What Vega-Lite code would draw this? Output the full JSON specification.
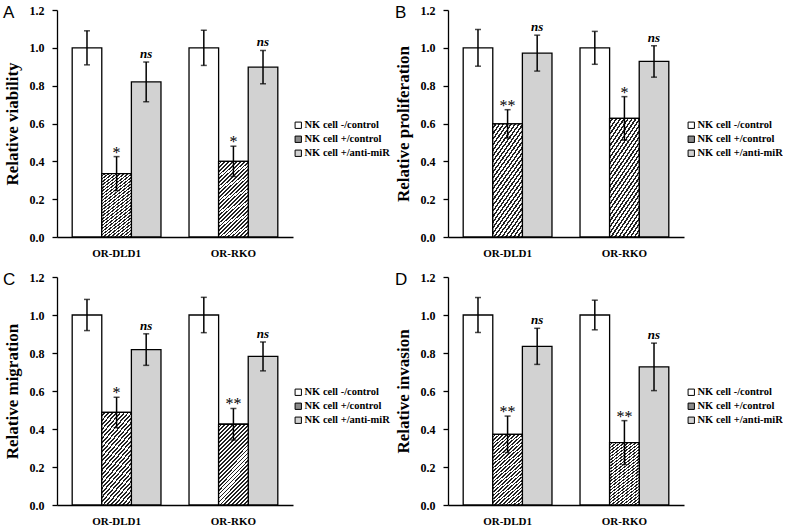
{
  "$schema": "https://vega.github.io/schema/vega-lite/v6.json",
  "padding": {"left": 3, "top": 4, "right": 0, "bottom": 0},
  "data": {"values": [
    {"panel": "A", "cell": "OR-DLD1", "grp": "NK cell -/control", "mean": 1.0, "lo": 0.91, "hi": 1.09, "sig": ""},
    {"panel": "A", "cell": "OR-DLD1", "grp": "NK cell +/control", "mean": 0.335, "lo": 0.245, "hi": 0.425, "sig": "*"},
    {"panel": "A", "cell": "OR-DLD1", "grp": "NK cell +/anti-miR", "mean": 0.82, "lo": 0.715, "hi": 0.925, "sig": "ns"},
    {"panel": "A", "cell": "OR-RKO", "grp": "NK cell -/control", "mean": 1.0, "lo": 0.907, "hi": 1.093, "sig": ""},
    {"panel": "A", "cell": "OR-RKO", "grp": "NK cell +/control", "mean": 0.4, "lo": 0.32, "hi": 0.48, "sig": "*"},
    {"panel": "A", "cell": "OR-RKO", "grp": "NK cell +/anti-miR", "mean": 0.898, "lo": 0.81, "hi": 0.986, "sig": "ns"},
    {"panel": "B", "cell": "OR-DLD1", "grp": "NK cell -/control", "mean": 1.0, "lo": 0.903, "hi": 1.097, "sig": ""},
    {"panel": "B", "cell": "OR-DLD1", "grp": "NK cell +/control", "mean": 0.598, "lo": 0.523, "hi": 0.673, "sig": "**"},
    {"panel": "B", "cell": "OR-DLD1", "grp": "NK cell +/anti-miR", "mean": 0.972, "lo": 0.877, "hi": 1.067, "sig": "ns"},
    {"panel": "B", "cell": "OR-RKO", "grp": "NK cell -/control", "mean": 1.0, "lo": 0.913, "hi": 1.087, "sig": ""},
    {"panel": "B", "cell": "OR-RKO", "grp": "NK cell +/control", "mean": 0.627, "lo": 0.512, "hi": 0.742, "sig": "*"},
    {"panel": "B", "cell": "OR-RKO", "grp": "NK cell +/anti-miR", "mean": 0.928, "lo": 0.845, "hi": 1.011, "sig": "ns"},
    {"panel": "C", "cell": "OR-DLD1", "grp": "NK cell -/control", "mean": 1.0, "lo": 0.918, "hi": 1.082, "sig": ""},
    {"panel": "C", "cell": "OR-DLD1", "grp": "NK cell +/control", "mean": 0.487, "lo": 0.407, "hi": 0.567, "sig": "*"},
    {"panel": "C", "cell": "OR-DLD1", "grp": "NK cell +/anti-miR", "mean": 0.818, "lo": 0.735, "hi": 0.901, "sig": "ns"},
    {"panel": "C", "cell": "OR-RKO", "grp": "NK cell -/control", "mean": 1.0, "lo": 0.907, "hi": 1.093, "sig": ""},
    {"panel": "C", "cell": "OR-RKO", "grp": "NK cell +/control", "mean": 0.425, "lo": 0.342, "hi": 0.508, "sig": "**"},
    {"panel": "C", "cell": "OR-RKO", "grp": "NK cell +/anti-miR", "mean": 0.782, "lo": 0.706, "hi": 0.858, "sig": "ns"},
    {"panel": "D", "cell": "OR-DLD1", "grp": "NK cell -/control", "mean": 1.0, "lo": 0.908, "hi": 1.092, "sig": ""},
    {"panel": "D", "cell": "OR-DLD1", "grp": "NK cell +/control", "mean": 0.372, "lo": 0.276, "hi": 0.468, "sig": "**"},
    {"panel": "D", "cell": "OR-DLD1", "grp": "NK cell +/anti-miR", "mean": 0.835, "lo": 0.74, "hi": 0.93, "sig": "ns"},
    {"panel": "D", "cell": "OR-RKO", "grp": "NK cell -/control", "mean": 1.0, "lo": 0.922, "hi": 1.078, "sig": ""},
    {"panel": "D", "cell": "OR-RKO", "grp": "NK cell +/control", "mean": 0.328, "lo": 0.212, "hi": 0.444, "sig": "**"},
    {"panel": "D", "cell": "OR-RKO", "grp": "NK cell +/anti-miR", "mean": 0.727, "lo": 0.602, "hi": 0.852, "sig": "ns"}
  ]},
  "spacing": 13,
  "resolve": {"scale": {"fill": "independent"}, "legend": {"fill": "independent"}},
  "vconcat": [
    {
      "hconcat": [
        {
          "width": 236, "height": 227,
          "title": {"text": "A", "anchor": "start", "frame": "group", "orient": "top", "offset": 0, "dx": -54, "dy": 18, "baseline": "top", "font": "Liberation Sans", "fontSize": 17, "fontWeight": "normal", "color": "black"},
          "transform": [{"filter": "datum.panel === 'A'"}],
          "encoding": {
            "x": {"field": "cell", "type": "nominal", "sort": ["OR-DLD1", "OR-RKO"], "scale": {"paddingInner": 0.24, "paddingOuter": 0.13}, "axis": {"title": null, "ticks": false, "labelAngle": 0, "labelFontSize": 11, "labelPadding": 10, "labelFont": "Liberation Serif", "labelFontWeight": "bold"}},
            "xOffset": {"field": "grp", "type": "nominal", "sort": ["NK cell -/control", "NK cell +/control", "NK cell +/anti-miR"], "scale": {"paddingInner": 0, "paddingOuter": 0}}
          },
          "layer": [
            {"mark": {"type": "bar", "stroke": "black", "strokeWidth": 1.3},
             "encoding": {
               "y": {"field": "mean", "type": "quantitative", "title": "Relative viability", "scale": {"domain": [0, 1.2], "nice": false}, "axis": {"values": [0, 0.2, 0.4, 0.6, 0.8, 1, 1.2], "tickCount": 10, "format": ".1f", "labelOverlap": false}},
               "fill": {"field": "grp", "type": "nominal", "scale": {"domain": ["NK cell -/control", "NK cell +/control", "NK cell +/anti-miR"], "range": ["#ffffff", "#8a8a8a", "#d2d2d2"]}, "legend": {"orient": "none", "legendX": 236, "legendY": 110}}
             }},
            {"transform": [{"filter": "datum.grp === 'NK cell +/control'"}],
             "mark": {"type": "bar", "stroke": "black", "strokeWidth": 1.3, "fill": {"gradient": "linear", "x1": 0, "y1": 0, "x2": 0.446, "y2": 1.205, "stops": [
        {"offset": 0, "color": "#fff"}, {"offset": 0.0196, "color": "#fff"}, {"offset": 0.0196, "color": "#222"}, {"offset": 0.0357, "color": "#222"},
        {"offset": 0.0357, "color": "#fff"}, {"offset": 0.0554, "color": "#fff"}, {"offset": 0.0554, "color": "#222"}, {"offset": 0.0714, "color": "#222"},
        {"offset": 0.0714, "color": "#fff"}, {"offset": 0.0911, "color": "#fff"}, {"offset": 0.0911, "color": "#222"}, {"offset": 0.1071, "color": "#222"},
        {"offset": 0.1071, "color": "#fff"}, {"offset": 0.1268, "color": "#fff"}, {"offset": 0.1268, "color": "#222"}, {"offset": 0.1429, "color": "#222"},
        {"offset": 0.1429, "color": "#fff"}, {"offset": 0.1625, "color": "#fff"}, {"offset": 0.1625, "color": "#222"}, {"offset": 0.1786, "color": "#222"},
        {"offset": 0.1786, "color": "#fff"}, {"offset": 0.1982, "color": "#fff"}, {"offset": 0.1982, "color": "#222"}, {"offset": 0.2143, "color": "#222"},
        {"offset": 0.2143, "color": "#fff"}, {"offset": 0.2339, "color": "#fff"}, {"offset": 0.2339, "color": "#222"}, {"offset": 0.25, "color": "#222"},
        {"offset": 0.25, "color": "#fff"}, {"offset": 0.2696, "color": "#fff"}, {"offset": 0.2696, "color": "#222"}, {"offset": 0.2857, "color": "#222"},
        {"offset": 0.2857, "color": "#fff"}, {"offset": 0.3054, "color": "#fff"}, {"offset": 0.3054, "color": "#222"}, {"offset": 0.3214, "color": "#222"},
        {"offset": 0.3214, "color": "#fff"}, {"offset": 0.3411, "color": "#fff"}, {"offset": 0.3411, "color": "#222"}, {"offset": 0.3571, "color": "#222"},
        {"offset": 0.3571, "color": "#fff"}, {"offset": 0.3768, "color": "#fff"}, {"offset": 0.3768, "color": "#222"}, {"offset": 0.3929, "color": "#222"},
        {"offset": 0.3929, "color": "#fff"}, {"offset": 0.4125, "color": "#fff"}, {"offset": 0.4125, "color": "#222"}, {"offset": 0.4286, "color": "#222"},
        {"offset": 0.4286, "color": "#fff"}, {"offset": 0.4482, "color": "#fff"}, {"offset": 0.4482, "color": "#222"}, {"offset": 0.4643, "color": "#222"},
        {"offset": 0.4643, "color": "#fff"}, {"offset": 0.4839, "color": "#fff"}, {"offset": 0.4839, "color": "#222"}, {"offset": 0.5, "color": "#222"},
        {"offset": 0.5, "color": "#fff"}, {"offset": 0.5196, "color": "#fff"}, {"offset": 0.5196, "color": "#222"}, {"offset": 0.5357, "color": "#222"},
        {"offset": 0.5357, "color": "#fff"}, {"offset": 0.5554, "color": "#fff"}, {"offset": 0.5554, "color": "#222"}, {"offset": 0.5714, "color": "#222"},
        {"offset": 0.5714, "color": "#fff"}, {"offset": 0.5911, "color": "#fff"}, {"offset": 0.5911, "color": "#222"}, {"offset": 0.6071, "color": "#222"},
        {"offset": 0.6071, "color": "#fff"}, {"offset": 0.6268, "color": "#fff"}, {"offset": 0.6268, "color": "#222"}, {"offset": 0.6429, "color": "#222"},
        {"offset": 0.6429, "color": "#fff"}, {"offset": 0.6625, "color": "#fff"}, {"offset": 0.6625, "color": "#222"}, {"offset": 0.6786, "color": "#222"},
        {"offset": 0.6786, "color": "#fff"}, {"offset": 0.6982, "color": "#fff"}, {"offset": 0.6982, "color": "#222"}, {"offset": 0.7143, "color": "#222"},
        {"offset": 0.7143, "color": "#fff"}, {"offset": 0.7339, "color": "#fff"}, {"offset": 0.7339, "color": "#222"}, {"offset": 0.75, "color": "#222"},
        {"offset": 0.75, "color": "#fff"}, {"offset": 0.7696, "color": "#fff"}, {"offset": 0.7696, "color": "#222"}, {"offset": 0.7857, "color": "#222"},
        {"offset": 0.7857, "color": "#fff"}, {"offset": 0.8054, "color": "#fff"}, {"offset": 0.8054, "color": "#222"}, {"offset": 0.8214, "color": "#222"},
        {"offset": 0.8214, "color": "#fff"}, {"offset": 0.8411, "color": "#fff"}, {"offset": 0.8411, "color": "#222"}, {"offset": 0.8571, "color": "#222"},
        {"offset": 0.8571, "color": "#fff"}, {"offset": 0.8768, "color": "#fff"}, {"offset": 0.8768, "color": "#222"}, {"offset": 0.8929, "color": "#222"},
        {"offset": 0.8929, "color": "#fff"}, {"offset": 0.9125, "color": "#fff"}, {"offset": 0.9125, "color": "#222"}, {"offset": 0.9286, "color": "#222"},
        {"offset": 0.9286, "color": "#fff"}, {"offset": 0.9482, "color": "#fff"}, {"offset": 0.9482, "color": "#222"}, {"offset": 0.9643, "color": "#222"},
        {"offset": 0.9643, "color": "#fff"}, {"offset": 0.9839, "color": "#fff"}, {"offset": 0.9839, "color": "#222"}, {"offset": 1, "color": "#222"}]}},
             "encoding": {"y": {"field": "mean", "type": "quantitative", "title": "Relative viability", "axis": {"values": [0, 0.2, 0.4, 0.6, 0.8, 1, 1.2], "tickCount": 10, "format": ".1f", "labelOverlap": false}}}},
            {"mark": {"type": "rule", "color": "black", "strokeWidth": 1.5}, "encoding": {"y": {"field": "lo", "type": "quantitative", "title": "Relative viability", "axis": {"values": [0, 0.2, 0.4, 0.6, 0.8, 1, 1.2], "tickCount": 10, "format": ".1f", "labelOverlap": false}}, "y2": {"field": "hi"}}},
            {"mark": {"type": "tick", "color": "black", "thickness": 1.5, "size": 6}, "encoding": {"y": {"field": "lo", "type": "quantitative", "title": "Relative viability", "axis": {"values": [0, 0.2, 0.4, 0.6, 0.8, 1, 1.2], "tickCount": 10, "format": ".1f", "labelOverlap": false}}}},
            {"mark": {"type": "tick", "color": "black", "thickness": 1.5, "size": 6}, "encoding": {"y": {"field": "hi", "type": "quantitative", "title": "Relative viability", "axis": {"values": [0, 0.2, 0.4, 0.6, 0.8, 1, 1.2], "tickCount": 10, "format": ".1f", "labelOverlap": false}}}},
            {"transform": [{"filter": "datum.sig === 'ns'"}], "mark": {"type": "text", "font": "Liberation Serif", "fontStyle": "italic", "fontWeight": "bold", "fontSize": 13, "baseline": "alphabetic", "dy": -4, "color": "black"}, "encoding": {"y": {"field": "hi", "type": "quantitative", "title": "Relative viability", "axis": {"values": [0, 0.2, 0.4, 0.6, 0.8, 1, 1.2], "tickCount": 10, "format": ".1f", "labelOverlap": false}}, "text": {"field": "sig"}}},
            {"transform": [{"filter": "datum.sig === '*' || datum.sig === '**'"}], "mark": {"type": "text", "font": "Liberation Serif", "fontSize": 16, "baseline": "alphabetic", "dy": 1, "color": "black"}, "encoding": {"y": {"field": "hi", "type": "quantitative", "title": "Relative viability", "axis": {"values": [0, 0.2, 0.4, 0.6, 0.8, 1, 1.2], "tickCount": 10, "format": ".1f", "labelOverlap": false}}, "text": {"field": "sig"}}}
          ]
        },
        {
          "width": 236, "height": 227,
          "title": {"text": "B", "anchor": "start", "frame": "group", "orient": "top", "offset": 0, "dx": -53, "dy": 18, "baseline": "top", "font": "Liberation Sans", "fontSize": 17, "fontWeight": "normal", "color": "black"},
          "transform": [{"filter": "datum.panel === 'B'"}],
          "encoding": {
            "x": {"field": "cell", "type": "nominal", "sort": ["OR-DLD1", "OR-RKO"], "scale": {"paddingInner": 0.24, "paddingOuter": 0.13}, "axis": {"title": null, "ticks": false, "labelAngle": 0, "labelFontSize": 11, "labelPadding": 10, "labelFont": "Liberation Serif", "labelFontWeight": "bold"}},
            "xOffset": {"field": "grp", "type": "nominal", "sort": ["NK cell -/control", "NK cell +/control", "NK cell +/anti-miR"], "scale": {"paddingInner": 0, "paddingOuter": 0}}
          },
          "layer": [
            {"mark": {"type": "bar", "stroke": "black", "strokeWidth": 1.3},
             "encoding": {
               "y": {"field": "mean", "type": "quantitative", "title": "Relative proliferation", "scale": {"domain": [0, 1.2], "nice": false}, "axis": {"values": [0, 0.2, 0.4, 0.6, 0.8, 1, 1.2], "tickCount": 10, "format": ".1f", "labelOverlap": false}},
               "fill": {"field": "grp", "type": "nominal", "scale": {"domain": ["NK cell -/control", "NK cell +/control", "NK cell +/anti-miR"], "range": ["#ffffff", "#8a8a8a", "#d2d2d2"]}, "legend": {"orient": "none", "legendX": 238, "legendY": 110}}
             }},
            {"transform": [{"filter": "datum.grp === 'NK cell +/control'"}],
             "mark": {"type": "bar", "stroke": "black", "strokeWidth": 1.3, "fill": {"gradient": "linear", "x1": 0, "y1": 0, "x2": 0.446, "y2": 1.205, "stops": [
        {"offset": 0, "color": "#fff"}, {"offset": 0.0196, "color": "#fff"}, {"offset": 0.0196, "color": "#222"}, {"offset": 0.0357, "color": "#222"},
        {"offset": 0.0357, "color": "#fff"}, {"offset": 0.0554, "color": "#fff"}, {"offset": 0.0554, "color": "#222"}, {"offset": 0.0714, "color": "#222"},
        {"offset": 0.0714, "color": "#fff"}, {"offset": 0.0911, "color": "#fff"}, {"offset": 0.0911, "color": "#222"}, {"offset": 0.1071, "color": "#222"},
        {"offset": 0.1071, "color": "#fff"}, {"offset": 0.1268, "color": "#fff"}, {"offset": 0.1268, "color": "#222"}, {"offset": 0.1429, "color": "#222"},
        {"offset": 0.1429, "color": "#fff"}, {"offset": 0.1625, "color": "#fff"}, {"offset": 0.1625, "color": "#222"}, {"offset": 0.1786, "color": "#222"},
        {"offset": 0.1786, "color": "#fff"}, {"offset": 0.1982, "color": "#fff"}, {"offset": 0.1982, "color": "#222"}, {"offset": 0.2143, "color": "#222"},
        {"offset": 0.2143, "color": "#fff"}, {"offset": 0.2339, "color": "#fff"}, {"offset": 0.2339, "color": "#222"}, {"offset": 0.25, "color": "#222"},
        {"offset": 0.25, "color": "#fff"}, {"offset": 0.2696, "color": "#fff"}, {"offset": 0.2696, "color": "#222"}, {"offset": 0.2857, "color": "#222"},
        {"offset": 0.2857, "color": "#fff"}, {"offset": 0.3054, "color": "#fff"}, {"offset": 0.3054, "color": "#222"}, {"offset": 0.3214, "color": "#222"},
        {"offset": 0.3214, "color": "#fff"}, {"offset": 0.3411, "color": "#fff"}, {"offset": 0.3411, "color": "#222"}, {"offset": 0.3571, "color": "#222"},
        {"offset": 0.3571, "color": "#fff"}, {"offset": 0.3768, "color": "#fff"}, {"offset": 0.3768, "color": "#222"}, {"offset": 0.3929, "color": "#222"},
        {"offset": 0.3929, "color": "#fff"}, {"offset": 0.4125, "color": "#fff"}, {"offset": 0.4125, "color": "#222"}, {"offset": 0.4286, "color": "#222"},
        {"offset": 0.4286, "color": "#fff"}, {"offset": 0.4482, "color": "#fff"}, {"offset": 0.4482, "color": "#222"}, {"offset": 0.4643, "color": "#222"},
        {"offset": 0.4643, "color": "#fff"}, {"offset": 0.4839, "color": "#fff"}, {"offset": 0.4839, "color": "#222"}, {"offset": 0.5, "color": "#222"},
        {"offset": 0.5, "color": "#fff"}, {"offset": 0.5196, "color": "#fff"}, {"offset": 0.5196, "color": "#222"}, {"offset": 0.5357, "color": "#222"},
        {"offset": 0.5357, "color": "#fff"}, {"offset": 0.5554, "color": "#fff"}, {"offset": 0.5554, "color": "#222"}, {"offset": 0.5714, "color": "#222"},
        {"offset": 0.5714, "color": "#fff"}, {"offset": 0.5911, "color": "#fff"}, {"offset": 0.5911, "color": "#222"}, {"offset": 0.6071, "color": "#222"},
        {"offset": 0.6071, "color": "#fff"}, {"offset": 0.6268, "color": "#fff"}, {"offset": 0.6268, "color": "#222"}, {"offset": 0.6429, "color": "#222"},
        {"offset": 0.6429, "color": "#fff"}, {"offset": 0.6625, "color": "#fff"}, {"offset": 0.6625, "color": "#222"}, {"offset": 0.6786, "color": "#222"},
        {"offset": 0.6786, "color": "#fff"}, {"offset": 0.6982, "color": "#fff"}, {"offset": 0.6982, "color": "#222"}, {"offset": 0.7143, "color": "#222"},
        {"offset": 0.7143, "color": "#fff"}, {"offset": 0.7339, "color": "#fff"}, {"offset": 0.7339, "color": "#222"}, {"offset": 0.75, "color": "#222"},
        {"offset": 0.75, "color": "#fff"}, {"offset": 0.7696, "color": "#fff"}, {"offset": 0.7696, "color": "#222"}, {"offset": 0.7857, "color": "#222"},
        {"offset": 0.7857, "color": "#fff"}, {"offset": 0.8054, "color": "#fff"}, {"offset": 0.8054, "color": "#222"}, {"offset": 0.8214, "color": "#222"},
        {"offset": 0.8214, "color": "#fff"}, {"offset": 0.8411, "color": "#fff"}, {"offset": 0.8411, "color": "#222"}, {"offset": 0.8571, "color": "#222"},
        {"offset": 0.8571, "color": "#fff"}, {"offset": 0.8768, "color": "#fff"}, {"offset": 0.8768, "color": "#222"}, {"offset": 0.8929, "color": "#222"},
        {"offset": 0.8929, "color": "#fff"}, {"offset": 0.9125, "color": "#fff"}, {"offset": 0.9125, "color": "#222"}, {"offset": 0.9286, "color": "#222"},
        {"offset": 0.9286, "color": "#fff"}, {"offset": 0.9482, "color": "#fff"}, {"offset": 0.9482, "color": "#222"}, {"offset": 0.9643, "color": "#222"},
        {"offset": 0.9643, "color": "#fff"}, {"offset": 0.9839, "color": "#fff"}, {"offset": 0.9839, "color": "#222"}, {"offset": 1, "color": "#222"}]}},
             "encoding": {"y": {"field": "mean", "type": "quantitative", "title": "Relative proliferation", "axis": {"values": [0, 0.2, 0.4, 0.6, 0.8, 1, 1.2], "tickCount": 10, "format": ".1f", "labelOverlap": false}}}},
            {"mark": {"type": "rule", "color": "black", "strokeWidth": 1.5}, "encoding": {"y": {"field": "lo", "type": "quantitative", "title": "Relative proliferation", "axis": {"values": [0, 0.2, 0.4, 0.6, 0.8, 1, 1.2], "tickCount": 10, "format": ".1f", "labelOverlap": false}}, "y2": {"field": "hi"}}},
            {"mark": {"type": "tick", "color": "black", "thickness": 1.5, "size": 6}, "encoding": {"y": {"field": "lo", "type": "quantitative", "title": "Relative proliferation", "axis": {"values": [0, 0.2, 0.4, 0.6, 0.8, 1, 1.2], "tickCount": 10, "format": ".1f", "labelOverlap": false}}}},
            {"mark": {"type": "tick", "color": "black", "thickness": 1.5, "size": 6}, "encoding": {"y": {"field": "hi", "type": "quantitative", "title": "Relative proliferation", "axis": {"values": [0, 0.2, 0.4, 0.6, 0.8, 1, 1.2], "tickCount": 10, "format": ".1f", "labelOverlap": false}}}},
            {"transform": [{"filter": "datum.sig === 'ns'"}], "mark": {"type": "text", "font": "Liberation Serif", "fontStyle": "italic", "fontWeight": "bold", "fontSize": 13, "baseline": "alphabetic", "dy": -4, "color": "black"}, "encoding": {"y": {"field": "hi", "type": "quantitative", "title": "Relative proliferation", "axis": {"values": [0, 0.2, 0.4, 0.6, 0.8, 1, 1.2], "tickCount": 10, "format": ".1f", "labelOverlap": false}}, "text": {"field": "sig"}}},
            {"transform": [{"filter": "datum.sig === '*' || datum.sig === '**'"}], "mark": {"type": "text", "font": "Liberation Serif", "fontSize": 16, "baseline": "alphabetic", "dy": 1, "color": "black"}, "encoding": {"y": {"field": "hi", "type": "quantitative", "title": "Relative proliferation", "axis": {"values": [0, 0.2, 0.4, 0.6, 0.8, 1, 1.2], "tickCount": 10, "format": ".1f", "labelOverlap": false}}, "text": {"field": "sig"}}}
          ]
        }
      ],
      "spacing": 4,
      "resolve": {"scale": {"fill": "independent"}, "legend": {"fill": "independent"}}
    },
    {
      "hconcat": [
        {
          "width": 236, "height": 228,
          "title": {"text": "C", "anchor": "start", "frame": "group", "orient": "top", "offset": 0, "dx": -54, "dy": 18, "baseline": "top", "font": "Liberation Sans", "fontSize": 17, "fontWeight": "normal", "color": "black"},
          "transform": [{"filter": "datum.panel === 'C'"}],
          "encoding": {
            "x": {"field": "cell", "type": "nominal", "sort": ["OR-DLD1", "OR-RKO"], "scale": {"paddingInner": 0.24, "paddingOuter": 0.13}, "axis": {"title": null, "ticks": false, "labelAngle": 0, "labelFontSize": 11, "labelPadding": 10, "labelFont": "Liberation Serif", "labelFontWeight": "bold"}},
            "xOffset": {"field": "grp", "type": "nominal", "sort": ["NK cell -/control", "NK cell +/control", "NK cell +/anti-miR"], "scale": {"paddingInner": 0, "paddingOuter": 0}}
          },
          "layer": [
            {"mark": {"type": "bar", "stroke": "black", "strokeWidth": 1.3},
             "encoding": {
               "y": {"field": "mean", "type": "quantitative", "title": "Relative migration", "scale": {"domain": [0, 1.2], "nice": false}, "axis": {"values": [0, 0.2, 0.4, 0.6, 0.8, 1, 1.2], "tickCount": 10, "format": ".1f", "labelOverlap": false}},
               "fill": {"field": "grp", "type": "nominal", "scale": {"domain": ["NK cell -/control", "NK cell +/control", "NK cell +/anti-miR"], "range": ["#ffffff", "#8a8a8a", "#d2d2d2"]}, "legend": {"orient": "none", "legendX": 236, "legendY": 110}}
             }},
            {"transform": [{"filter": "datum.grp === 'NK cell +/control'"}],
             "mark": {"type": "bar", "stroke": "black", "strokeWidth": 1.3, "fill": {"gradient": "linear", "x1": 0, "y1": 0, "x2": 0.446, "y2": 1.205, "stops": [
        {"offset": 0, "color": "#fff"}, {"offset": 0.0196, "color": "#fff"}, {"offset": 0.0196, "color": "#222"}, {"offset": 0.0357, "color": "#222"},
        {"offset": 0.0357, "color": "#fff"}, {"offset": 0.0554, "color": "#fff"}, {"offset": 0.0554, "color": "#222"}, {"offset": 0.0714, "color": "#222"},
        {"offset": 0.0714, "color": "#fff"}, {"offset": 0.0911, "color": "#fff"}, {"offset": 0.0911, "color": "#222"}, {"offset": 0.1071, "color": "#222"},
        {"offset": 0.1071, "color": "#fff"}, {"offset": 0.1268, "color": "#fff"}, {"offset": 0.1268, "color": "#222"}, {"offset": 0.1429, "color": "#222"},
        {"offset": 0.1429, "color": "#fff"}, {"offset": 0.1625, "color": "#fff"}, {"offset": 0.1625, "color": "#222"}, {"offset": 0.1786, "color": "#222"},
        {"offset": 0.1786, "color": "#fff"}, {"offset": 0.1982, "color": "#fff"}, {"offset": 0.1982, "color": "#222"}, {"offset": 0.2143, "color": "#222"},
        {"offset": 0.2143, "color": "#fff"}, {"offset": 0.2339, "color": "#fff"}, {"offset": 0.2339, "color": "#222"}, {"offset": 0.25, "color": "#222"},
        {"offset": 0.25, "color": "#fff"}, {"offset": 0.2696, "color": "#fff"}, {"offset": 0.2696, "color": "#222"}, {"offset": 0.2857, "color": "#222"},
        {"offset": 0.2857, "color": "#fff"}, {"offset": 0.3054, "color": "#fff"}, {"offset": 0.3054, "color": "#222"}, {"offset": 0.3214, "color": "#222"},
        {"offset": 0.3214, "color": "#fff"}, {"offset": 0.3411, "color": "#fff"}, {"offset": 0.3411, "color": "#222"}, {"offset": 0.3571, "color": "#222"},
        {"offset": 0.3571, "color": "#fff"}, {"offset": 0.3768, "color": "#fff"}, {"offset": 0.3768, "color": "#222"}, {"offset": 0.3929, "color": "#222"},
        {"offset": 0.3929, "color": "#fff"}, {"offset": 0.4125, "color": "#fff"}, {"offset": 0.4125, "color": "#222"}, {"offset": 0.4286, "color": "#222"},
        {"offset": 0.4286, "color": "#fff"}, {"offset": 0.4482, "color": "#fff"}, {"offset": 0.4482, "color": "#222"}, {"offset": 0.4643, "color": "#222"},
        {"offset": 0.4643, "color": "#fff"}, {"offset": 0.4839, "color": "#fff"}, {"offset": 0.4839, "color": "#222"}, {"offset": 0.5, "color": "#222"},
        {"offset": 0.5, "color": "#fff"}, {"offset": 0.5196, "color": "#fff"}, {"offset": 0.5196, "color": "#222"}, {"offset": 0.5357, "color": "#222"},
        {"offset": 0.5357, "color": "#fff"}, {"offset": 0.5554, "color": "#fff"}, {"offset": 0.5554, "color": "#222"}, {"offset": 0.5714, "color": "#222"},
        {"offset": 0.5714, "color": "#fff"}, {"offset": 0.5911, "color": "#fff"}, {"offset": 0.5911, "color": "#222"}, {"offset": 0.6071, "color": "#222"},
        {"offset": 0.6071, "color": "#fff"}, {"offset": 0.6268, "color": "#fff"}, {"offset": 0.6268, "color": "#222"}, {"offset": 0.6429, "color": "#222"},
        {"offset": 0.6429, "color": "#fff"}, {"offset": 0.6625, "color": "#fff"}, {"offset": 0.6625, "color": "#222"}, {"offset": 0.6786, "color": "#222"},
        {"offset": 0.6786, "color": "#fff"}, {"offset": 0.6982, "color": "#fff"}, {"offset": 0.6982, "color": "#222"}, {"offset": 0.7143, "color": "#222"},
        {"offset": 0.7143, "color": "#fff"}, {"offset": 0.7339, "color": "#fff"}, {"offset": 0.7339, "color": "#222"}, {"offset": 0.75, "color": "#222"},
        {"offset": 0.75, "color": "#fff"}, {"offset": 0.7696, "color": "#fff"}, {"offset": 0.7696, "color": "#222"}, {"offset": 0.7857, "color": "#222"},
        {"offset": 0.7857, "color": "#fff"}, {"offset": 0.8054, "color": "#fff"}, {"offset": 0.8054, "color": "#222"}, {"offset": 0.8214, "color": "#222"},
        {"offset": 0.8214, "color": "#fff"}, {"offset": 0.8411, "color": "#fff"}, {"offset": 0.8411, "color": "#222"}, {"offset": 0.8571, "color": "#222"},
        {"offset": 0.8571, "color": "#fff"}, {"offset": 0.8768, "color": "#fff"}, {"offset": 0.8768, "color": "#222"}, {"offset": 0.8929, "color": "#222"},
        {"offset": 0.8929, "color": "#fff"}, {"offset": 0.9125, "color": "#fff"}, {"offset": 0.9125, "color": "#222"}, {"offset": 0.9286, "color": "#222"},
        {"offset": 0.9286, "color": "#fff"}, {"offset": 0.9482, "color": "#fff"}, {"offset": 0.9482, "color": "#222"}, {"offset": 0.9643, "color": "#222"},
        {"offset": 0.9643, "color": "#fff"}, {"offset": 0.9839, "color": "#fff"}, {"offset": 0.9839, "color": "#222"}, {"offset": 1, "color": "#222"}]}},
             "encoding": {"y": {"field": "mean", "type": "quantitative", "title": "Relative migration", "axis": {"values": [0, 0.2, 0.4, 0.6, 0.8, 1, 1.2], "tickCount": 10, "format": ".1f", "labelOverlap": false}}}},
            {"mark": {"type": "rule", "color": "black", "strokeWidth": 1.5}, "encoding": {"y": {"field": "lo", "type": "quantitative", "title": "Relative migration", "axis": {"values": [0, 0.2, 0.4, 0.6, 0.8, 1, 1.2], "tickCount": 10, "format": ".1f", "labelOverlap": false}}, "y2": {"field": "hi"}}},
            {"mark": {"type": "tick", "color": "black", "thickness": 1.5, "size": 6}, "encoding": {"y": {"field": "lo", "type": "quantitative", "title": "Relative migration", "axis": {"values": [0, 0.2, 0.4, 0.6, 0.8, 1, 1.2], "tickCount": 10, "format": ".1f", "labelOverlap": false}}}},
            {"mark": {"type": "tick", "color": "black", "thickness": 1.5, "size": 6}, "encoding": {"y": {"field": "hi", "type": "quantitative", "title": "Relative migration", "axis": {"values": [0, 0.2, 0.4, 0.6, 0.8, 1, 1.2], "tickCount": 10, "format": ".1f", "labelOverlap": false}}}},
            {"transform": [{"filter": "datum.sig === 'ns'"}], "mark": {"type": "text", "font": "Liberation Serif", "fontStyle": "italic", "fontWeight": "bold", "fontSize": 13, "baseline": "alphabetic", "dy": -4, "color": "black"}, "encoding": {"y": {"field": "hi", "type": "quantitative", "title": "Relative migration", "axis": {"values": [0, 0.2, 0.4, 0.6, 0.8, 1, 1.2], "tickCount": 10, "format": ".1f", "labelOverlap": false}}, "text": {"field": "sig"}}},
            {"transform": [{"filter": "datum.sig === '*' || datum.sig === '**'"}], "mark": {"type": "text", "font": "Liberation Serif", "fontSize": 16, "baseline": "alphabetic", "dy": 1, "color": "black"}, "encoding": {"y": {"field": "hi", "type": "quantitative", "title": "Relative migration", "axis": {"values": [0, 0.2, 0.4, 0.6, 0.8, 1, 1.2], "tickCount": 10, "format": ".1f", "labelOverlap": false}}, "text": {"field": "sig"}}}
          ]
        },
        {
          "width": 236, "height": 228,
          "title": {"text": "D", "anchor": "start", "frame": "group", "orient": "top", "offset": 0, "dx": -53, "dy": 18, "baseline": "top", "font": "Liberation Sans", "fontSize": 17, "fontWeight": "normal", "color": "black"},
          "transform": [{"filter": "datum.panel === 'D'"}],
          "encoding": {
            "x": {"field": "cell", "type": "nominal", "sort": ["OR-DLD1", "OR-RKO"], "scale": {"paddingInner": 0.24, "paddingOuter": 0.13}, "axis": {"title": null, "ticks": false, "labelAngle": 0, "labelFontSize": 11, "labelPadding": 10, "labelFont": "Liberation Serif", "labelFontWeight": "bold"}},
            "xOffset": {"field": "grp", "type": "nominal", "sort": ["NK cell -/control", "NK cell +/control", "NK cell +/anti-miR"], "scale": {"paddingInner": 0, "paddingOuter": 0}}
          },
          "layer": [
            {"mark": {"type": "bar", "stroke": "black", "strokeWidth": 1.3},
             "encoding": {
               "y": {"field": "mean", "type": "quantitative", "title": "Relative invasion", "scale": {"domain": [0, 1.2], "nice": false}, "axis": {"values": [0, 0.2, 0.4, 0.6, 0.8, 1, 1.2], "tickCount": 10, "format": ".1f", "labelOverlap": false}},
               "fill": {"field": "grp", "type": "nominal", "scale": {"domain": ["NK cell -/control", "NK cell +/control", "NK cell +/anti-miR"], "range": ["#ffffff", "#8a8a8a", "#d2d2d2"]}, "legend": {"orient": "none", "legendX": 238, "legendY": 110}}
             }},
            {"transform": [{"filter": "datum.grp === 'NK cell +/control'"}],
             "mark": {"type": "bar", "stroke": "black", "strokeWidth": 1.3, "fill": {"gradient": "linear", "x1": 0, "y1": 0, "x2": 0.446, "y2": 1.205, "stops": [
        {"offset": 0, "color": "#fff"}, {"offset": 0.0196, "color": "#fff"}, {"offset": 0.0196, "color": "#222"}, {"offset": 0.0357, "color": "#222"},
        {"offset": 0.0357, "color": "#fff"}, {"offset": 0.0554, "color": "#fff"}, {"offset": 0.0554, "color": "#222"}, {"offset": 0.0714, "color": "#222"},
        {"offset": 0.0714, "color": "#fff"}, {"offset": 0.0911, "color": "#fff"}, {"offset": 0.0911, "color": "#222"}, {"offset": 0.1071, "color": "#222"},
        {"offset": 0.1071, "color": "#fff"}, {"offset": 0.1268, "color": "#fff"}, {"offset": 0.1268, "color": "#222"}, {"offset": 0.1429, "color": "#222"},
        {"offset": 0.1429, "color": "#fff"}, {"offset": 0.1625, "color": "#fff"}, {"offset": 0.1625, "color": "#222"}, {"offset": 0.1786, "color": "#222"},
        {"offset": 0.1786, "color": "#fff"}, {"offset": 0.1982, "color": "#fff"}, {"offset": 0.1982, "color": "#222"}, {"offset": 0.2143, "color": "#222"},
        {"offset": 0.2143, "color": "#fff"}, {"offset": 0.2339, "color": "#fff"}, {"offset": 0.2339, "color": "#222"}, {"offset": 0.25, "color": "#222"},
        {"offset": 0.25, "color": "#fff"}, {"offset": 0.2696, "color": "#fff"}, {"offset": 0.2696, "color": "#222"}, {"offset": 0.2857, "color": "#222"},
        {"offset": 0.2857, "color": "#fff"}, {"offset": 0.3054, "color": "#fff"}, {"offset": 0.3054, "color": "#222"}, {"offset": 0.3214, "color": "#222"},
        {"offset": 0.3214, "color": "#fff"}, {"offset": 0.3411, "color": "#fff"}, {"offset": 0.3411, "color": "#222"}, {"offset": 0.3571, "color": "#222"},
        {"offset": 0.3571, "color": "#fff"}, {"offset": 0.3768, "color": "#fff"}, {"offset": 0.3768, "color": "#222"}, {"offset": 0.3929, "color": "#222"},
        {"offset": 0.3929, "color": "#fff"}, {"offset": 0.4125, "color": "#fff"}, {"offset": 0.4125, "color": "#222"}, {"offset": 0.4286, "color": "#222"},
        {"offset": 0.4286, "color": "#fff"}, {"offset": 0.4482, "color": "#fff"}, {"offset": 0.4482, "color": "#222"}, {"offset": 0.4643, "color": "#222"},
        {"offset": 0.4643, "color": "#fff"}, {"offset": 0.4839, "color": "#fff"}, {"offset": 0.4839, "color": "#222"}, {"offset": 0.5, "color": "#222"},
        {"offset": 0.5, "color": "#fff"}, {"offset": 0.5196, "color": "#fff"}, {"offset": 0.5196, "color": "#222"}, {"offset": 0.5357, "color": "#222"},
        {"offset": 0.5357, "color": "#fff"}, {"offset": 0.5554, "color": "#fff"}, {"offset": 0.5554, "color": "#222"}, {"offset": 0.5714, "color": "#222"},
        {"offset": 0.5714, "color": "#fff"}, {"offset": 0.5911, "color": "#fff"}, {"offset": 0.5911, "color": "#222"}, {"offset": 0.6071, "color": "#222"},
        {"offset": 0.6071, "color": "#fff"}, {"offset": 0.6268, "color": "#fff"}, {"offset": 0.6268, "color": "#222"}, {"offset": 0.6429, "color": "#222"},
        {"offset": 0.6429, "color": "#fff"}, {"offset": 0.6625, "color": "#fff"}, {"offset": 0.6625, "color": "#222"}, {"offset": 0.6786, "color": "#222"},
        {"offset": 0.6786, "color": "#fff"}, {"offset": 0.6982, "color": "#fff"}, {"offset": 0.6982, "color": "#222"}, {"offset": 0.7143, "color": "#222"},
        {"offset": 0.7143, "color": "#fff"}, {"offset": 0.7339, "color": "#fff"}, {"offset": 0.7339, "color": "#222"}, {"offset": 0.75, "color": "#222"},
        {"offset": 0.75, "color": "#fff"}, {"offset": 0.7696, "color": "#fff"}, {"offset": 0.7696, "color": "#222"}, {"offset": 0.7857, "color": "#222"},
        {"offset": 0.7857, "color": "#fff"}, {"offset": 0.8054, "color": "#fff"}, {"offset": 0.8054, "color": "#222"}, {"offset": 0.8214, "color": "#222"},
        {"offset": 0.8214, "color": "#fff"}, {"offset": 0.8411, "color": "#fff"}, {"offset": 0.8411, "color": "#222"}, {"offset": 0.8571, "color": "#222"},
        {"offset": 0.8571, "color": "#fff"}, {"offset": 0.8768, "color": "#fff"}, {"offset": 0.8768, "color": "#222"}, {"offset": 0.8929, "color": "#222"},
        {"offset": 0.8929, "color": "#fff"}, {"offset": 0.9125, "color": "#fff"}, {"offset": 0.9125, "color": "#222"}, {"offset": 0.9286, "color": "#222"},
        {"offset": 0.9286, "color": "#fff"}, {"offset": 0.9482, "color": "#fff"}, {"offset": 0.9482, "color": "#222"}, {"offset": 0.9643, "color": "#222"},
        {"offset": 0.9643, "color": "#fff"}, {"offset": 0.9839, "color": "#fff"}, {"offset": 0.9839, "color": "#222"}, {"offset": 1, "color": "#222"}]}},
             "encoding": {"y": {"field": "mean", "type": "quantitative", "title": "Relative invasion", "axis": {"values": [0, 0.2, 0.4, 0.6, 0.8, 1, 1.2], "tickCount": 10, "format": ".1f", "labelOverlap": false}}}},
            {"mark": {"type": "rule", "color": "black", "strokeWidth": 1.5}, "encoding": {"y": {"field": "lo", "type": "quantitative", "title": "Relative invasion", "axis": {"values": [0, 0.2, 0.4, 0.6, 0.8, 1, 1.2], "tickCount": 10, "format": ".1f", "labelOverlap": false}}, "y2": {"field": "hi"}}},
            {"mark": {"type": "tick", "color": "black", "thickness": 1.5, "size": 6}, "encoding": {"y": {"field": "lo", "type": "quantitative", "title": "Relative invasion", "axis": {"values": [0, 0.2, 0.4, 0.6, 0.8, 1, 1.2], "tickCount": 10, "format": ".1f", "labelOverlap": false}}}},
            {"mark": {"type": "tick", "color": "black", "thickness": 1.5, "size": 6}, "encoding": {"y": {"field": "hi", "type": "quantitative", "title": "Relative invasion", "axis": {"values": [0, 0.2, 0.4, 0.6, 0.8, 1, 1.2], "tickCount": 10, "format": ".1f", "labelOverlap": false}}}},
            {"transform": [{"filter": "datum.sig === 'ns'"}], "mark": {"type": "text", "font": "Liberation Serif", "fontStyle": "italic", "fontWeight": "bold", "fontSize": 13, "baseline": "alphabetic", "dy": -4, "color": "black"}, "encoding": {"y": {"field": "hi", "type": "quantitative", "title": "Relative invasion", "axis": {"values": [0, 0.2, 0.4, 0.6, 0.8, 1, 1.2], "tickCount": 10, "format": ".1f", "labelOverlap": false}}, "text": {"field": "sig"}}},
            {"transform": [{"filter": "datum.sig === '*' || datum.sig === '**'"}], "mark": {"type": "text", "font": "Liberation Serif", "fontSize": 16, "baseline": "alphabetic", "dy": 1, "color": "black"}, "encoding": {"y": {"field": "hi", "type": "quantitative", "title": "Relative invasion", "axis": {"values": [0, 0.2, 0.4, 0.6, 0.8, 1, 1.2], "tickCount": 10, "format": ".1f", "labelOverlap": false}}, "text": {"field": "sig"}}}
          ]
        }
      ],
      "spacing": 4,
      "resolve": {"scale": {"fill": "independent"}, "legend": {"fill": "independent"}}
    }
  ],
  "config": {
    "view": {"stroke": null},
    "font": "Liberation Serif",
    "style": {"guide-label": {"font": "Liberation Serif", "fontWeight": "bold", "fill": "black"}, "guide-title": {"font": "Liberation Serif", "fontWeight": "bold", "fill": "black"}},
    "axis": {"domainColor": "black", "domainWidth": 1.3, "tickColor": "black", "tickWidth": 1.3, "tickSize": 5, "labelColor": "black", "titleColor": "black", "labelFont": "Liberation Serif", "titleFont": "Liberation Serif", "labelFontWeight": "bold", "titleFontWeight": "bold", "grid": false},
    "axisY": {"labelFontSize": 12, "labelPadding": 8, "titleFontSize": 17, "titlePadding": 8, "labelOverlap": false, "tickCount": 10},
    "legend": {"title": null, "symbolType": "square", "symbolSize": 40, "symbolStrokeColor": "black", "symbolStrokeWidth": 1, "labelFont": "Liberation Serif", "labelFontWeight": "bold", "labelFontSize": 10.5, "labelColor": "black", "rowPadding": 3, "labelOffset": 1, "padding": 0}
  }
}
